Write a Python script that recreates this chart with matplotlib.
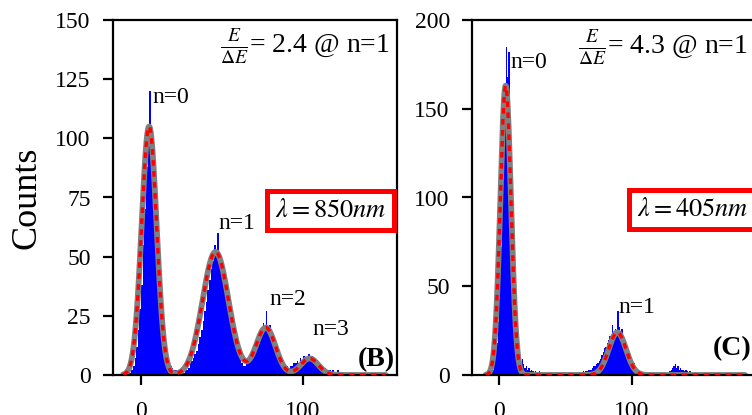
import numpy as np
import matplotlib
matplotlib.use("Agg")
import matplotlib.pyplot as plt

plt.rcParams['font.family'] = ['Liberation Serif', 'DejaVu Serif']
plt.rcParams['mathtext.fontset'] = 'stix'

# histogram counts, 1-unit bins starting at x = -10
start_b = -10
counts_b = [0, 0, 1, 1, 2, 4, 7, 12, 19, 28,
            38, 55, 70, 88, 106, 120, 104, 96, 82, 68,
            53, 40, 30, 21, 14, 9, 6, 5, 4, 3,
            2, 2, 1, 1, 2, 1, 1, 2, 2, 3,
            5, 6, 7, 9, 10, 13, 16, 19, 23, 27,
            31, 36, 40, 45, 48, 55, 51, 60, 50, 47,
            46, 42, 38, 34, 30, 26, 22, 19, 15, 12,
            9, 7, 5, 4, 4, 5, 6, 7, 8, 10,
            12, 13, 15, 18, 19, 22, 20, 27, 19, 21,
            18, 16, 15, 13, 11, 10, 8, 6, 5, 4,
            4, 3, 4, 4, 5, 5, 6, 5, 7, 6,
            8, 7, 6, 9, 7, 8, 6, 7, 5, 5,
            4, 4, 3, 3, 2, 2, 2, 1, 2, 1,
            1, 2, 1, 1, 1, 0, 1, 0, 1, 0, 1]

start_c = -10
counts_c = [0, 0, 1, 1, 2, 3, 6, 10, 18, 30,
            48, 72, 100, 128, 150, 185, 168, 182, 140, 110,
            80, 55, 35, 22, 13, 8, 5, 9, 6, 4,
            5, 3, 4, 2, 3, 2, 1, 2, 1, 1,
            2, 1, 1, 0, 1, 1, 0, 1, 0, 1,
            0, 1, 0, 1, 0, 0, 1, 0, 1, 1,
            0, 1, 0, 1, 1, 0, 1, 1, 1, 0,
            1, 1, 1, 2, 1, 2, 2, 3, 3, 3,
            4, 5, 5, 6, 7, 8, 9, 11, 13, 15,
            16, 18, 20, 22, 21, 28, 23, 26, 25, 36,
            27, 24, 26, 22, 20, 18, 16, 14, 12, 10,
            8, 7, 5, 4, 3, 2, 2, 1, 1, 1,
            0, 1, 0, 1, 0, 1, 0, 0, 1, 0,
            0, 1, 0, 0, 1, 1, 0, 1, 2, 3,
            4, 5, 6, 4, 5, 3, 4, 3, 3, 2,
            3, 2, 1, 2, 1, 1, 0, 0, 1, 0,
            0, 1, 0, 0, 0, 1, 0, 1]

# gaussian fit parameters (amplitude, centre, sigma) per peak
amp_b = [105, 52, 20, 7]
mu_b = [5, 46, 77, 104]
sig_b = [4.6, 8.0, 6.0, 5.5]
fitrange_b = (-11, 151)

amp_c = [163, 24]
mu_c = [5, 89]
sig_c = [4.0, 6.5]
fitrange_c = (-10, 185)

peaks_b = ["n=0", "n=1", "n=2", "n=3"]
peaks_c = ["n=0", "n=1"]


def fit_curve(x, amps, mus, sigs):
    y = np.zeros_like(x)
    for a, m, s in zip(amps, mus, sigs):
        y += a * np.exp(-(x - m) ** 2 / (2 * s ** 2))
    return y


def draw_panel(ax, start, counts, amps, mus, sigs, fitrange):
    edges = np.arange(start, start + len(counts))
    ax.bar(edges, counts, width=1.0, align='edge', color='#0000ff', linewidth=0, zorder=1)
    xf = np.linspace(fitrange[0], fitrange[1], 800)
    yf = fit_curve(xf, amps, mus, sigs)
    ax.plot(xf, yf, color='#808080', lw=4.2, zorder=2, solid_capstyle='round')
    ax.plot(xf, yf, color='#ff0000', lw=2.4, dashes=(1.7, 1.6), zorder=3)
    for side in ['left', 'bottom', 'top', 'right']:
        ax.spines[side].set_linewidth(1.6)
    ax.tick_params(axis='both', direction='out', length=7, width=1.6,
                   labelsize=17, top=False, right=False)
    ax.tick_params(axis='x', pad=12)
    ax.tick_params(axis='y', pad=9)


fig = plt.figure(figsize=(7.52, 4.15), dpi=100)
axb = fig.add_axes([113 / 752, 40 / 415, 284 / 752, 355 / 415])
axc = fig.add_axes([472 / 752, 40 / 415, 293 / 752, 355 / 415])

draw_panel(axb, start_b, counts_b, amp_b, mu_b, sig_b, fitrange_b)
axb.set_xlim(-17.3, 158)
axb.set_ylim(0, 150)
axb.set_xticks([0, 100])
axb.set_yticks([0, 25, 50, 75, 100, 125, 150])
axb.set_ylabel("Counts", fontsize=26)
axb.yaxis.set_label_coords(-0.245, 0.5)

lab_b = [(6.8, 115), (47.5, 61.7), (79, 29.6), (105.5, 16.9)]
for t, (x, y) in zip(peaks_b, lab_b):
    axb.text(x, y, t, fontsize=17, ha='left', va='baseline')
axb.text(0.975, 0.907, r'$\frac{E}{\Delta E}$= 2.4 @ n=1', fontsize=20,
         ha='right', va='baseline', transform=axb.transAxes)
axb.text(0.57, 0.445, r'$\lambda = 850nm$', fontsize=19, ha='left', va='baseline',
         transform=axb.transAxes,
         bbox=dict(boxstyle='square,pad=0.3', fc='white', ec='#ff0000', lw=3.6))
axb.text(0.993, 0.025, "(B)", fontsize=20, fontweight='bold', ha='right',
         va='baseline', transform=axb.transAxes)

draw_panel(axc, start_c, counts_c, amp_c, mu_c, sig_c, fitrange_c)
axc.set_xlim(-20.3, 200)
axc.set_ylim(0, 200)
axc.set_xticks([0, 100])
axc.set_yticks([0, 50, 100, 150, 200])

lab_c = [(8.3, 173), (89.5, 35)]
for t, (x, y) in zip(peaks_c, lab_c):
    axc.text(x, y, t, fontsize=17, ha='left', va='baseline')
axc.text(59.4, 181, r'$\frac{E}{\Delta E}$= 4.3 @ n=1', fontsize=20,
         ha='left', va='baseline')
axc.text(103.8, 89.5, r'$\lambda = 405nm$', fontsize=19, ha='left', va='baseline',
         bbox=dict(boxstyle='square,pad=0.3', fc='white', ec='#ff0000', lw=3.6))
axc.text(161, 11.3, "(C)", fontsize=20, fontweight='bold', ha='left', va='baseline')

fig.savefig("out.png", dpi=100)
